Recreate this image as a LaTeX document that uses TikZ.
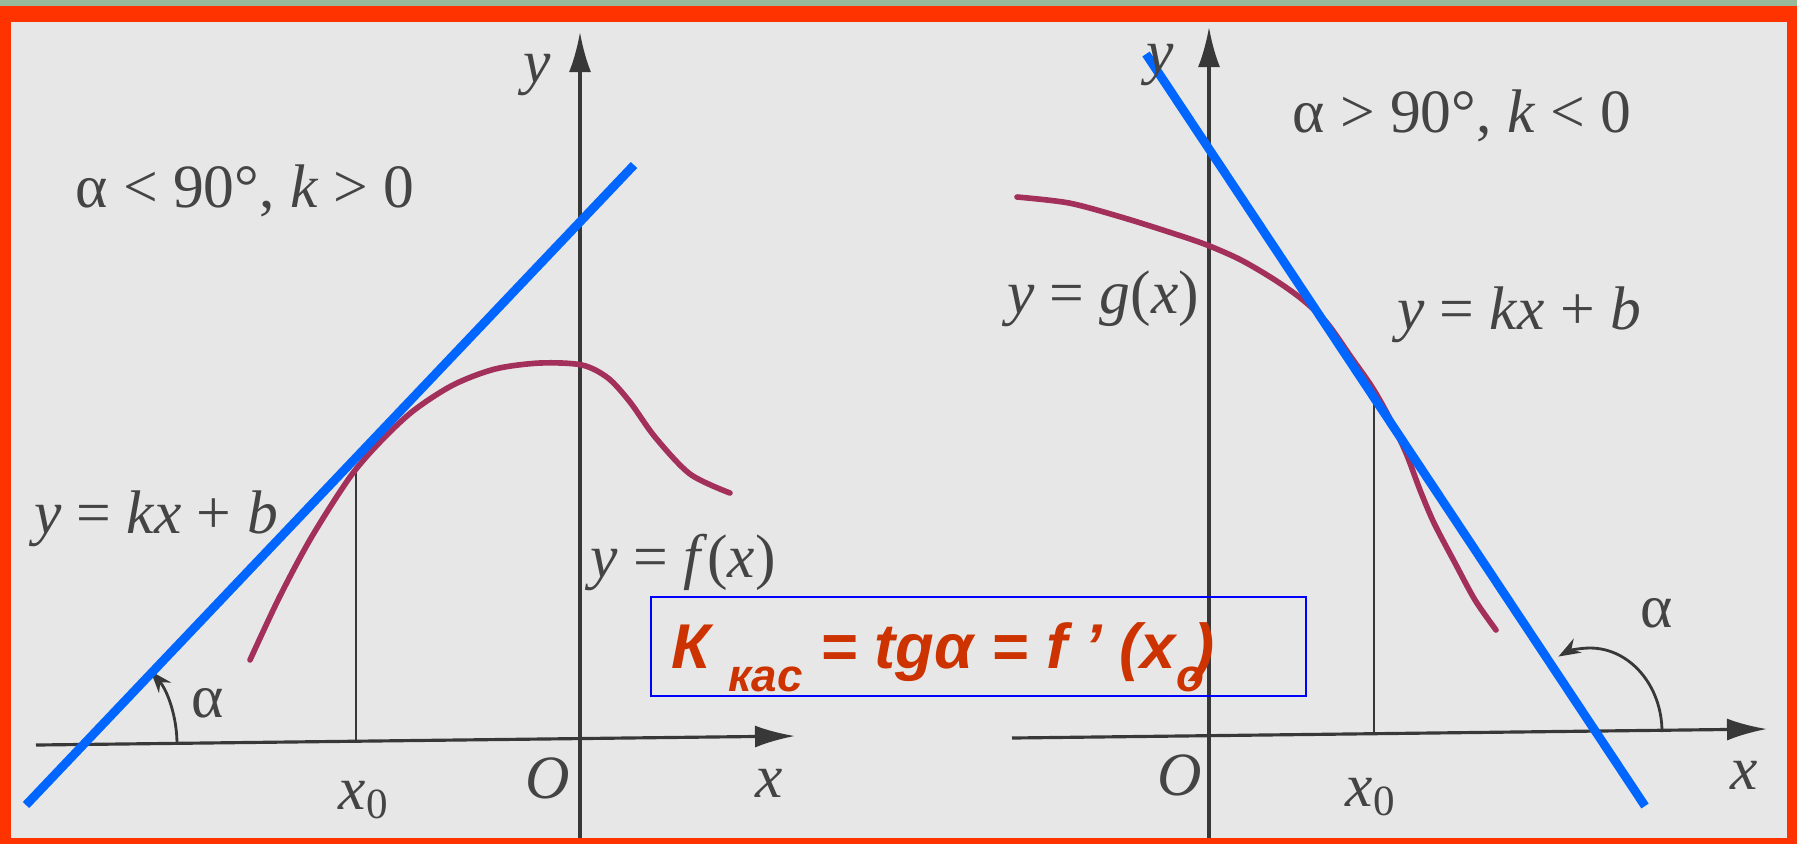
\documentclass[tikz,border=0pt]{standalone}
\usepackage{fontspec}
\setmainfont{Liberation Serif}
\newfontfamily\formulafont{Liberation Sans}
\usepackage{tikz}
\usetikzlibrary{arrows.meta, positioning, calc}
\definecolor{framered}{HTML}{FF3300}
\definecolor{stripgreen}{HTML}{98BA98}
\definecolor{paper}{HTML}{E7E7E7}
\definecolor{axisgray}{HTML}{383838}
\definecolor{labelgray}{HTML}{444444}
\definecolor{curvered}{HTML}{A3305A}
\definecolor{tangentblue}{HTML}{0066FF}
\definecolor{formulared}{HTML}{CC3300}
\definecolor{boxblue}{HTML}{0000FF}
\tikzstyle{axis} = [axisgray, line width=0.9pt, -{Latex[length=4mm, width=2.2mm]}]
\tikzstyle{dropline} = [axisgray, line width=0.6pt]
\tikzstyle{graphline} = [curvered, line width=1.6pt, line cap=round]
\tikzstyle{tangent} = [tangentblue, line width=2.5pt]
\tikzstyle{anglearc} = [axisgray, line width=0.8pt, -{Stealth[length=2.2mm, width=1.6mm]}]
\tikzstyle{lbl} = [text=labelgray, font=\fontsize{17.5}{20}\selectfont, inner sep=0pt]
\tikzstyle{formulabox} = [draw=boxblue, line width=0.7pt, minimum width=6.55cm, minimum height=0.99cm, inner sep=0pt]
\tikzstyle{formulatext} = [text=formulared, font=\formulafont\bfseries\itshape\fontsize{18}{20}\selectfont, inner sep=0pt]
\newcommand{\lowsub}[1]{\raisebox{-6.8pt}{\fontsize{13}{13}\selectfont #1}}

\begin{document}
\begin{tikzpicture}[x=0.01cm, y=-0.01cm]
  \useasboundingbox (0,0) rectangle (1797,844);
  \fill[framered] (0,0) rectangle (1797,844);
  \fill[stripgreen] (0,0) rectangle (1797,6);
  \fill[paper] (11,22) rectangle (1787,838);

  \coordinate (xstartL) at (36,745);
  \coordinate (xendL) at (795,736);
  \coordinate (ystartL) at (580,838);
  \coordinate (yendL) at (580,32);
  \coordinate (xstartR) at (1012,738);
  \coordinate (xendR) at (1767,729);
  \coordinate (ystartR) at (1209,838);
  \coordinate (yendR) at (1209,27);

  \draw[axis] (xstartL) -- (xendL);
  \draw[axis] (ystartL) -- (yendL);
  \draw[axis] (xstartR) -- (xendR);
  \draw[axis] (ystartR) -- (yendR);

  \draw[dropline] (356,470) -- (356,742);
  \draw[dropline] (1374,400) -- (1374,734);

  \draw[graphline] plot[smooth, tension=0.5] coordinates {(250,660) (279,598) (311,538) (350,477) (380,442) (413,411) (453,385) (495,369) (540,363) (582,365) (608,378) (630,402) (655,437) (690,474) (730,493)};
  \draw[graphline] plot[smooth, tension=0.5] coordinates {(1017,197) (1069,203) (1121,217) (1172,233) (1207,245) (1241,260) (1275,280) (1303,300) (1327,323) (1351,357) (1372,387) (1389,417) (1406,453) (1420,490) (1434,523) (1455,563) (1475,600) (1496,630)};

  \draw[anglearc] (177,744) arc[start angle=0, end angle=-44, x radius=94, y radius=105];
  \draw[anglearc] (1662,732) arc[start angle=0, end angle=-116, x radius=72, y radius=84];

  \draw[tangent] (26,805) -- (634,165);
  \draw[tangent] (1146,54) -- (1645,806);

  \node[lbl] (ylabL) at (537,75) {\textit{y}};
  \node[lbl] (xlabL) at (769,783) {\textit{x}};
  \node[lbl] (originL) at (548,778) {\textit{O}};
  \node[lbl] (xzeroL) at (364,800) {\textit{x}\textsubscript{0}};
  \node[lbl] (alphaL) at (208,703) {α};
  \node[lbl] (condL) at (245,191) {α < 90°, \textit{k} > 0};
  \node[lbl] (tanlabL) at (156,519) {\textit{y} = \textit{kx} + \textit{b}};
  \node[lbl] (flab) at (683,562) {\textit{y} = \textit{f}(\textit{x})};

  \node[lbl] (ylabR) at (1160,65) {\textit{y}};
  \node[lbl] (xlabR) at (1744,775) {\textit{x}};
  \node[lbl] (originR) at (1180,775) {\textit{O}};
  \node[lbl] (xzeroR) at (1371,797) {\textit{x}\textsubscript{0}};
  \node[lbl] (alphaR) at (1657,613) {α};
  \node[lbl] (condR) at (1462,116) {α > 90°, \textit{k} < 0};
  \node[lbl] (glab) at (1103,299) {\textit{y} = \textit{g}(\textit{x})};
  \node[lbl] (tanlabR) at (1519,315) {\textit{y} = \textit{kx} + \textit{b}};

  \node[formulabox] (box) at (978.5,646.5) {};
  \node[formulatext, anchor=base west] (formula) at (671,668) {К \lowsub{кас} = tgα = f ’ (x\lowsub{o}\kern-3pt)};
\end{tikzpicture}
\end{document}
